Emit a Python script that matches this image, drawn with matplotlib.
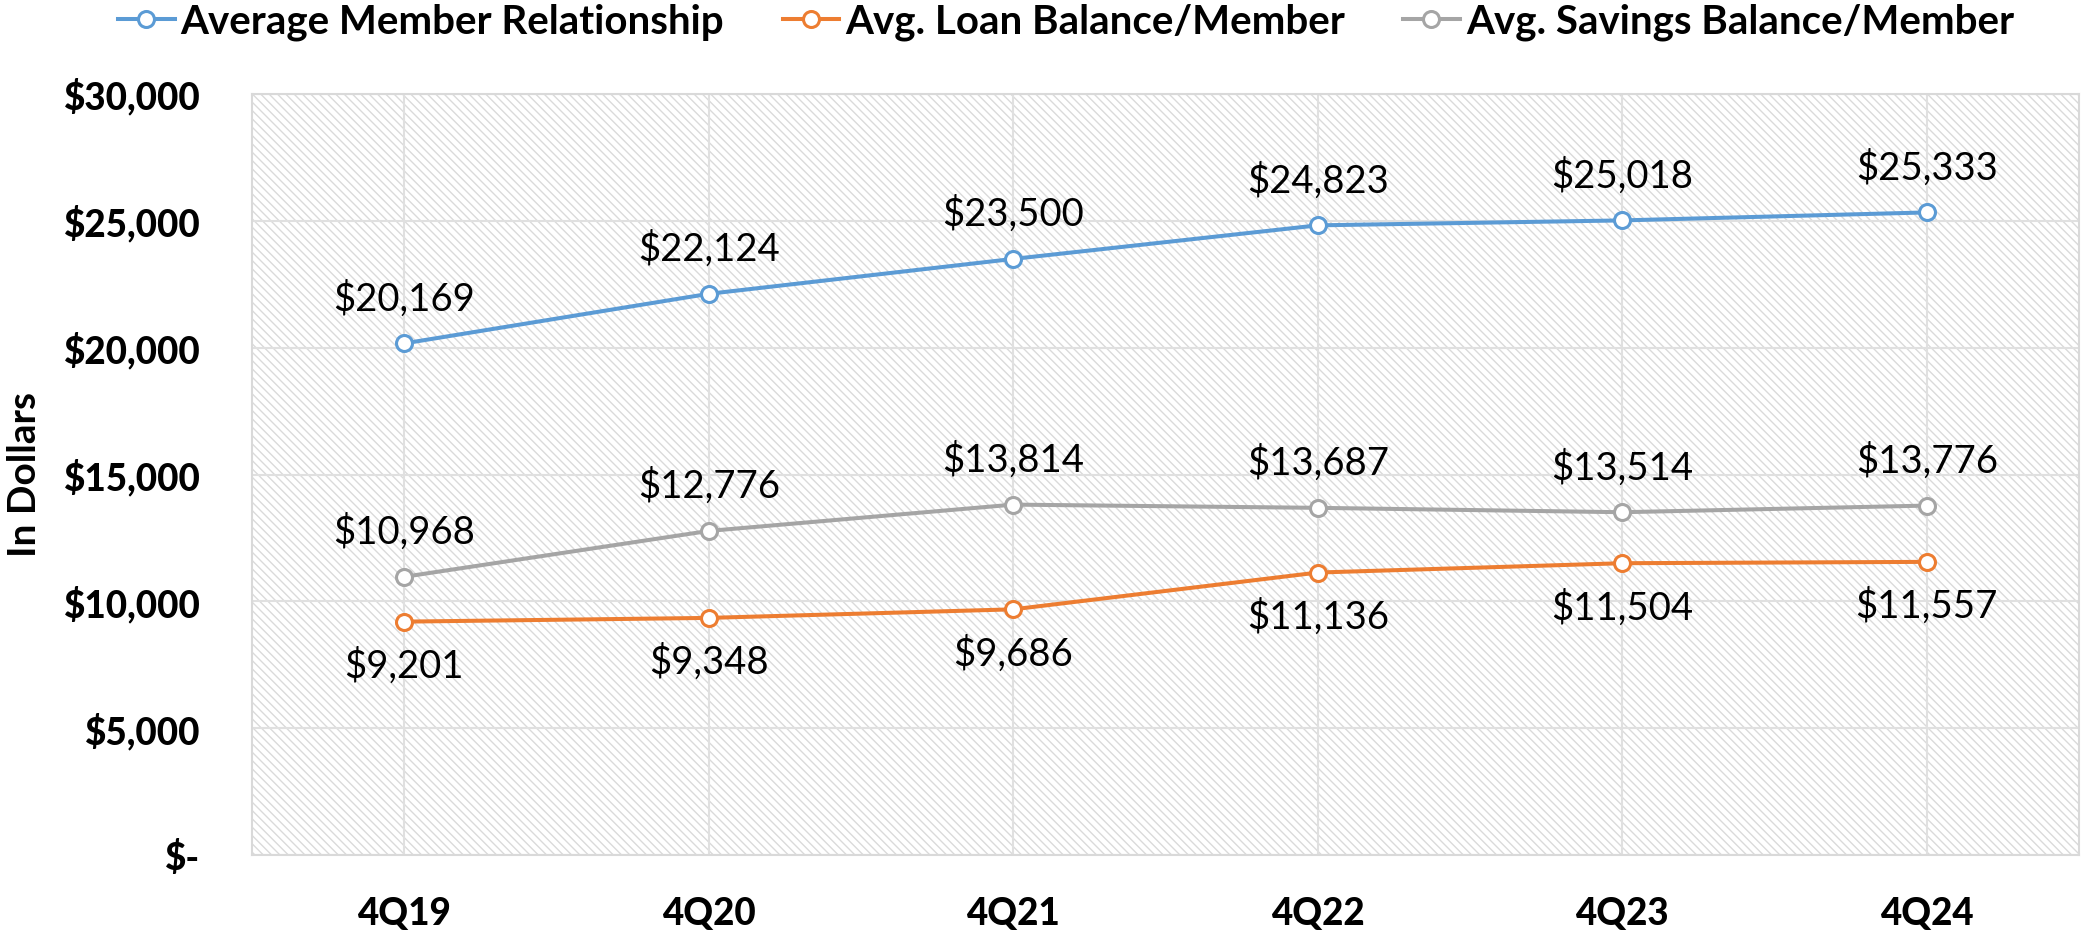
import matplotlib.pyplot as plt
from matplotlib.ticker import FuncFormatter

# Data
quarters = ['4Q19', '4Q20', '4Q21', '4Q22', '4Q23', '4Q24']
avg_relationship = [20169, 22124, 23500, 24823, 25018, 25333]
avg_loan = [9201, 9348, 9686, 11136, 11504, 11557]
avg_savings = [10968, 12776, 13814, 13687, 13514, 13776]

series_names = ['Average Member Relationship', 'Avg. Loan Balance/Member',
                'Avg. Savings Balance/Member']
colors = ['#5B9BD5', '#ED7D31', '#A5A5A5']

plt.rcParams['font.family'] = ['Lato', 'DejaVu Sans']
plt.rcParams['hatch.linewidth'] = 1.0
plt.rcParams['hatch.color'] = '#dadada'

fig = plt.figure(figsize=(20.82, 9.31), dpi=100)
ax = fig.add_axes([0.121, 0.0816, 0.8776, 0.8174])

x = list(range(len(quarters)))

# hatched plot background
ax.patch.set_facecolor('white')
ax.patch.set_hatch('\\\\\\\\')
ax.patch.set_edgecolor('#dadada')

lines = []
for vals, name, c, below in zip([avg_relationship, avg_loan, avg_savings],
                                 series_names, colors, [False, True, False]):
    ln, = ax.plot(x, vals, color=c, lw=2.9, marker='o', markersize=11.5,
                  markerfacecolor='white', markeredgecolor=c,
                  markeredgewidth=2.2, label=name, zorder=3)
    lines.append(ln)
    for xi, v in zip(x, vals):
        ax.annotate(f'${v:,}', (xi, v), xytext=(0, -32 if below else 32),
                    textcoords='offset points', ha='center', va='center',
                    fontsize=27.5, color='black')

ax.set_xlim(-0.5, 5.5)
ax.set_ylim(0, 30000)
ax.set_yticks(range(0, 30001, 5000))
ax.yaxis.set_major_formatter(FuncFormatter(lambda v, p: '$-' if v == 0 else f'${v:,.0f}'))
ax.set_xticks(x)
ax.set_xticklabels(quarters)
ax.tick_params(length=0, labelsize=26.5)
ax.tick_params(axis='y', pad=37)
ax.tick_params(axis='x', pad=30)
for lab in ax.get_xticklabels() + ax.get_yticklabels():
    lab.set_fontweight('black')

ax.grid(True, color='#e0e0e0', lw=1.5)
ax.set_axisbelow(True)
for s in ax.spines.values():
    s.set_color('#d9d9d9')
    s.set_linewidth(1.5)

fig.text(0.012, 0.49, 'In Dollars', rotation=90, ha='center', va='center',
         fontsize=28, fontweight='bold')

fig.legend(handles=lines, loc='center', bbox_to_anchor=(0.512, 0.976), ncol=3,
           frameon=False, prop={'size': 29, 'weight': 'bold'},
           handlelength=1.4, handletextpad=0.15, columnspacing=1.45,
           borderaxespad=0)

fig.savefig('out.png', dpi=100)
